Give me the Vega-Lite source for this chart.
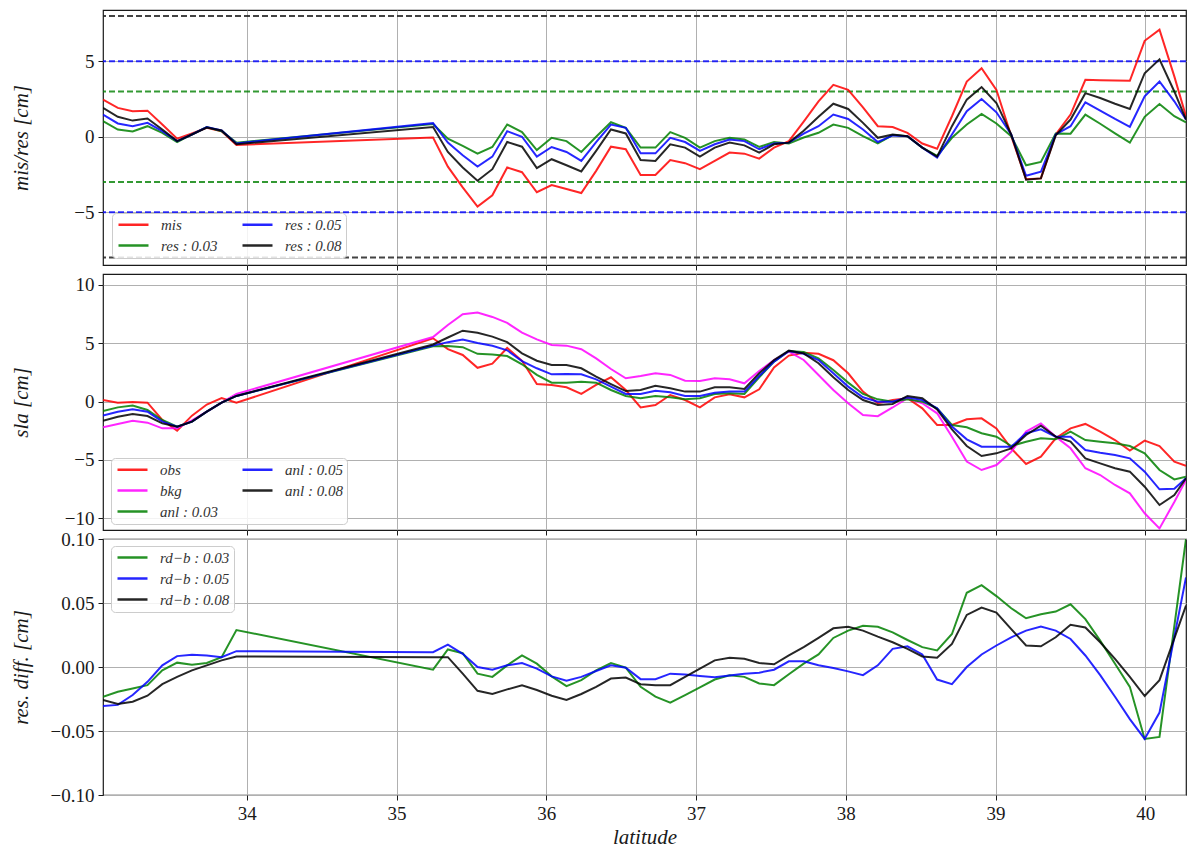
{
  "$schema": "https://vega.github.io/schema/vega-lite/v6.json",
  "background": "white",
  "padding": {"left": 9, "top": 9, "right": 0, "bottom": 0},
  "spacing": 9,
  "bounds": "flush",
  "resolve": {"scale": {"color": "independent", "x": "independent", "y": "independent"}, "legend": {"color": "independent"}},
  "datasets": {
    "p1": [
      {"lat":33.04,"mis":2.46,"r03":1.03,"r05":1.47,"r08":1.91},
      {"lat":33.139,"mis":1.91,"r03":0.48,"r05":0.88,"r08":1.32},
      {"lat":33.238,"mis":1.69,"r03":0.35,"r05":0.7,"r08":1.07},
      {"lat":33.337,"mis":1.73,"r03":0.7,"r05":0.92,"r08":1.21},
      {"lat":33.436,"mis":0.81,"r03":0.26,"r05":0.37,"r08":0.48},
      {"lat":33.535,"mis":-0.13,"r03":-0.35,"r05":-0.29,"r08":-0.29},
      {"lat":33.634,"mis":0.22,"r03":0.15,"r05":0.15,"r08":0.15},
      {"lat":33.733,"mis":0.59,"r03":0.64,"r05":0.64,"r08":0.61},
      {"lat":33.832,"mis":0.37,"r03":0.37,"r05":0.42,"r08":0.42},
      {"lat":33.931,"mis":-0.55,"r03":-0.39,"r05":-0.44,"r08":-0.5},
      {"lat":35.244,"mis":-0.05,"r03":0.85,"r05":0.9,"r08":0.64},
      {"lat":35.343,"mis":-1.98,"r03":-0.13,"r05":-0.39,"r08":-1.01},
      {"lat":35.442,"mis":-3.36,"r03":-0.61,"r05":-1.23,"r08":-2.04},
      {"lat":35.541,"mis":-4.63,"r03":-1.12,"r05":-1.97,"r08":-2.92},
      {"lat":35.64,"mis":-3.88,"r03":-0.68,"r05":-1.32,"r08":-2.15},
      {"lat":35.739,"mis":-2.04,"r03":0.81,"r05":0.37,"r08":-0.35},
      {"lat":35.838,"mis":-2.35,"r03":0.31,"r05":0.0,"r08":-0.66},
      {"lat":35.937,"mis":-3.68,"r03":-0.88,"r05":-1.32,"r08":-2.08},
      {"lat":36.036,"mis":-3.2,"r03":-0.07,"r05":-0.68,"r08":-1.49},
      {"lat":36.135,"mis":-3.46,"r03":-0.29,"r05":-1.01,"r08":-1.89},
      {"lat":36.234,"mis":-3.73,"r03":-1.01,"r05":-1.6,"r08":-2.3},
      {"lat":36.333,"mis":-2.26,"r03":0.0,"r05":-0.35,"r08":-0.94},
      {"lat":36.432,"mis":-0.66,"r03":0.96,"r05":0.81,"r08":0.48},
      {"lat":36.531,"mis":-0.83,"r03":0.59,"r05":0.59,"r08":0.22},
      {"lat":36.63,"mis":-2.54,"r03":-0.72,"r05":-1.1,"r08":-1.54},
      {"lat":36.729,"mis":-2.54,"r03":-0.72,"r05":-1.1,"r08":-1.6},
      {"lat":36.828,"mis":-1.54,"r03":0.31,"r05":-0.07,"r08":-0.5},
      {"lat":36.927,"mis":-1.75,"r03":-0.07,"r05":-0.35,"r08":-0.72},
      {"lat":37.026,"mis":-2.15,"r03":-0.72,"r05":-0.94,"r08":-1.32},
      {"lat":37.125,"mis":-1.6,"r03":-0.29,"r05":-0.5,"r08":-0.72},
      {"lat":37.224,"mis":-1.05,"r03":-0.07,"r05":-0.18,"r08":-0.39},
      {"lat":37.323,"mis":-1.12,"r03":-0.18,"r05":-0.29,"r08":-0.57},
      {"lat":37.422,"mis":-1.45,"r03":-0.68,"r05":-0.83,"r08":-1.05},
      {"lat":37.521,"mis":-0.72,"r03":-0.35,"r05":-0.44,"r08":-0.5},
      {"lat":37.62,"mis":-0.29,"r03":-0.44,"r05":-0.39,"r08":-0.39},
      {"lat":37.719,"mis":1.0,"r03":-0.05,"r05":0.2,"r08":0.4},
      {"lat":37.818,"mis":2.35,"r03":0.26,"r05":0.7,"r08":1.32},
      {"lat":37.917,"mis":3.44,"r03":0.81,"r05":1.47,"r08":2.19},
      {"lat":38.016,"mis":3.11,"r03":0.59,"r05":1.18,"r08":1.84},
      {"lat":38.115,"mis":1.95,"r03":0.04,"r05":0.48,"r08":0.92},
      {"lat":38.214,"mis":0.7,"r03":-0.44,"r05":-0.35,"r08":-0.07},
      {"lat":38.313,"mis":0.64,"r03":0.11,"r05":0.09,"r08":0.15},
      {"lat":38.412,"mis":0.26,"r03":0.04,"r05":0.04,"r08":0.04},
      {"lat":38.511,"mis":-0.45,"r03":-0.72,"r05":-0.72,"r08":-0.72},
      {"lat":38.61,"mis":-0.8,"r03":-1.27,"r05":-1.38,"r08":-1.32},
      {"lat":38.709,"mis":1.36,"r03":-0.07,"r05":0.15,"r08":0.7},
      {"lat":38.808,"mis":3.66,"r03":0.81,"r05":1.69,"r08":2.46},
      {"lat":38.907,"mis":4.54,"r03":1.51,"r05":2.5,"r08":3.29},
      {"lat":39.006,"mis":3.11,"r03":0.88,"r05":1.62,"r08":2.24},
      {"lat":39.105,"mis":0.04,"r03":0.04,"r05":0.15,"r08":0.15},
      {"lat":39.204,"mis":-2.81,"r03":-1.89,"r05":-2.59,"r08":-2.85},
      {"lat":39.303,"mis":-2.76,"r03":-1.67,"r05":-2.32,"r08":-2.76},
      {"lat":39.402,"mis":0.15,"r03":0.22,"r05":0.15,"r08":0.09},
      {"lat":39.501,"mis":1.47,"r03":0.2,"r05":0.7,"r08":1.14},
      {"lat":39.6,"mis":3.77,"r03":1.47,"r05":2.28,"r08":2.89},
      {"lat":39.699,"mis":3.75,"r03":0.86,"r05":1.73,"r08":2.57},
      {"lat":39.798,"mis":3.73,"r03":0.22,"r05":1.18,"r08":2.19},
      {"lat":39.897,"mis":3.71,"r03":-0.39,"r05":0.66,"r08":1.84},
      {"lat":39.996,"mis":6.36,"r03":1.32,"r05":2.68,"r08":4.21},
      {"lat":40.095,"mis":7.1,"r03":2.17,"r05":3.66,"r08":5.13},
      {"lat":40.194,"mis":4.0,"r03":1.36,"r05":2.35,"r08":3.0},
      {"lat":40.272,"mis":1.35,"r03":0.96,"r05":1.14,"r08":1.14}
    ],
    "p2": [
      {"lat":33.04,"obs":0.14,"bkg":-2.2,"a03":-0.8,"a05":-1.2,"a08":-1.63},
      {"lat":33.139,"obs":-0.09,"bkg":-1.91,"a03":-0.49,"a05":-0.86,"a08":-1.29},
      {"lat":33.238,"obs":-0.03,"bkg":-1.63,"a03":-0.34,"a05":-0.66,"a08":-1.06},
      {"lat":33.337,"obs":-0.09,"bkg":-1.8,"a03":-0.71,"a05":-0.86,"a08":-1.23},
      {"lat":33.436,"obs":-1.57,"bkg":-2.29,"a03":-1.57,"a05":-1.71,"a08":-1.86},
      {"lat":33.535,"obs":-2.49,"bkg":-2.29,"a03":-2.14,"a05":-2.14,"a08":-2.14},
      {"lat":33.634,"obs":-1.2,"bkg":-1.6,"a03":-1.71,"a05":-1.71,"a08":-1.71},
      {"lat":33.733,"obs":-0.25,"bkg":-0.86,"a03":-0.86,"a05":-0.86,"a08":-0.86},
      {"lat":33.832,"obs":0.3,"bkg":-0.09,"a03":-0.09,"a05":-0.09,"a08":-0.09},
      {"lat":33.931,"obs":-0.1,"bkg":0.66,"a03":0.49,"a05":0.49,"a08":0.49},
      {"lat":35.244,"obs":5.43,"bkg":5.54,"a03":4.75,"a05":4.8,"a08":4.9},
      {"lat":35.343,"obs":4.5,"bkg":6.57,"a03":4.77,"a05":5.1,"a08":5.5},
      {"lat":35.442,"obs":4.0,"bkg":7.5,"a03":4.67,"a05":5.33,"a08":6.08},
      {"lat":35.541,"obs":2.9,"bkg":7.63,"a03":4.1,"a05":5.03,"a08":5.91},
      {"lat":35.64,"obs":3.25,"bkg":7.26,"a03":4.05,"a05":4.79,"a08":5.57},
      {"lat":35.739,"obs":4.6,"bkg":6.75,"a03":3.91,"a05":4.4,"a08":5.1},
      {"lat":35.838,"obs":3.5,"bkg":5.91,"a03":3.2,"a05":3.47,"a08":4.14},
      {"lat":35.937,"obs":1.51,"bkg":5.34,"a03":2.29,"a05":2.86,"a08":3.51},
      {"lat":36.036,"obs":1.43,"bkg":4.86,"a03":1.63,"a05":2.34,"a08":3.14},
      {"lat":36.135,"obs":1.23,"bkg":4.8,"a03":1.63,"a05":2.37,"a08":3.14},
      {"lat":36.234,"obs":0.66,"bkg":4.49,"a03":1.71,"a05":2.34,"a08":2.86},
      {"lat":36.333,"obs":1.43,"bkg":3.71,"a03":1.63,"a05":1.91,"a08":2.14},
      {"lat":36.432,"obs":2.09,"bkg":2.8,"a03":1.0,"a05":1.29,"a08":1.51},
      {"lat":36.531,"obs":1.0,"bkg":2.0,"a03":0.49,"a05":0.66,"a08":0.91},
      {"lat":36.63,"obs":-0.49,"bkg":2.2,"a03":0.29,"a05":0.66,"a08":1.0},
      {"lat":36.729,"obs":-0.29,"bkg":2.43,"a03":0.49,"a05":0.94,"a08":1.37},
      {"lat":36.828,"obs":0.57,"bkg":2.29,"a03":0.37,"a05":0.8,"a08":1.14},
      {"lat":36.927,"obs":0.14,"bkg":1.8,"a03":0.2,"a05":0.49,"a08":0.86},
      {"lat":37.026,"obs":-0.49,"bkg":1.77,"a03":0.29,"a05":0.49,"a08":0.86},
      {"lat":37.125,"obs":0.37,"bkg":2.0,"a03":0.66,"a05":0.77,"a08":1.23},
      {"lat":37.224,"obs":0.63,"bkg":1.91,"a03":0.71,"a05":0.86,"a08":1.23},
      {"lat":37.323,"obs":0.37,"bkg":1.57,"a03":0.66,"a05":0.86,"a08":1.09},
      {"lat":37.422,"obs":1.06,"bkg":2.63,"a03":2.09,"a05":2.2,"a08":2.43},
      {"lat":37.521,"obs":2.94,"bkg":3.57,"a03":3.43,"a05":3.43,"a08":3.57},
      {"lat":37.62,"obs":3.95,"bkg":4.29,"a03":4.34,"a05":4.34,"a08":4.37},
      {"lat":37.719,"obs":4.2,"bkg":3.57,"a03":4.26,"a05":4.1,"a08":4.14},
      {"lat":37.818,"obs":4.1,"bkg":2.29,"a03":3.71,"a05":3.57,"a08":3.29},
      {"lat":37.917,"obs":3.55,"bkg":1.0,"a03":2.71,"a05":2.43,"a08":2.09},
      {"lat":38.016,"obs":2.43,"bkg":-0.14,"a03":1.63,"a05":1.29,"a08":1.0},
      {"lat":38.115,"obs":0.86,"bkg":-1.14,"a03":0.66,"a05":0.37,"a08":0.14},
      {"lat":38.214,"obs":-0.14,"bkg":-1.25,"a03":0.2,"a05":0.0,"a08":-0.29},
      {"lat":38.313,"obs":0.14,"bkg":-0.5,"a03":0.0,"a05":0.0,"a08":-0.2},
      {"lat":38.412,"obs":0.29,"bkg":0.29,"a03":0.2,"a05":0.37,"a08":0.49},
      {"lat":38.511,"obs":-0.57,"bkg":-0.14,"a03":0.0,"a05":0.14,"a08":0.29},
      {"lat":38.61,"obs":-2.0,"bkg":-1.0,"a03":-0.57,"a05":-0.57,"a08":-0.66},
      {"lat":38.709,"obs":-2.0,"bkg":-3.0,"a03":-2.0,"a05":-2.14,"a08":-2.37},
      {"lat":38.808,"obs":-1.51,"bkg":-5.14,"a03":-2.2,"a05":-3.23,"a08":-3.8},
      {"lat":38.907,"obs":-1.43,"bkg":-5.86,"a03":-2.71,"a05":-3.86,"a08":-4.66},
      {"lat":39.006,"obs":-2.29,"bkg":-5.43,"a03":-3.0,"a05":-3.86,"a08":-4.43},
      {"lat":39.105,"obs":-4.0,"bkg":-4.29,"a03":-3.8,"a05":-3.86,"a08":-4.0},
      {"lat":39.204,"obs":-5.34,"bkg":-2.57,"a03":-3.43,"a05":-2.71,"a08":-2.86},
      {"lat":39.303,"obs":-4.71,"bkg":-1.86,"a03":-3.14,"a05":-2.37,"a08":-2.06},
      {"lat":39.402,"obs":-3.14,"bkg":-3.0,"a03":-3.23,"a05":-3.0,"a08":-3.0},
      {"lat":39.501,"obs":-2.29,"bkg":-4.0,"a03":-2.57,"a05":-3.0,"a08":-3.43},
      {"lat":39.6,"obs":-1.91,"bkg":-5.71,"a03":-3.29,"a05":-4.14,"a08":-4.86},
      {"lat":39.699,"obs":-2.57,"bkg":-6.29,"a03":-3.43,"a05":-4.37,"a08":-5.29},
      {"lat":39.798,"obs":-3.29,"bkg":-7.14,"a03":-3.57,"a05":-4.57,"a08":-5.71},
      {"lat":39.897,"obs":-4.2,"bkg":-7.86,"a03":-3.8,"a05":-4.86,"a08":-6.0},
      {"lat":39.996,"obs":-3.34,"bkg":-9.57,"a03":-4.43,"a05":-6.0,"a08":-7.29},
      {"lat":40.095,"obs":-3.8,"bkg":-10.86,"a03":-5.86,"a05":-7.51,"a08":-8.86},
      {"lat":40.194,"obs":-5.14,"bkg":-8.6,"a03":-6.66,"a05":-7.46,"a08":-8.0},
      {"lat":40.272,"obs":-5.49,"bkg":-6.71,"a03":-6.43,"a05":-6.57,"a08":-6.57}
    ],
    "p3": [
      {"lat":33.04,"d03":-0.0232,"d05":-0.0304,"d08":-0.0258},
      {"lat":33.139,"d03":-0.0193,"d05":-0.0296,"d08":-0.0289},
      {"lat":33.238,"d03":-0.0168,"d05":-0.0219,"d08":-0.0271},
      {"lat":33.337,"d03":-0.0142,"d05":-0.0116,"d08":-0.0224},
      {"lat":33.436,"d03":-0.0026,"d05":0.0013,"d08":-0.0134},
      {"lat":33.535,"d03":0.0034,"d05":0.0085,"d08":-0.0077},
      {"lat":33.634,"d03":0.0018,"d05":0.0095,"d08":-0.0026},
      {"lat":33.733,"d03":0.0031,"d05":0.009,"d08":0.0013},
      {"lat":33.832,"d03":0.0077,"d05":0.0077,"d08":0.0052},
      {"lat":33.931,"d03":0.0289,"d05":0.0124,"d08":0.0082},
      {"lat":35.244,"d03":-0.0021,"d05":0.0116,"d08":0.0077},
      {"lat":35.343,"d03":0.0137,"d05":0.0175,"d08":0.0077},
      {"lat":35.442,"d03":0.0108,"d05":0.0103,"d08":-0.0052},
      {"lat":35.541,"d03":-0.0052,"d05":0.0,"d08":-0.0186},
      {"lat":35.64,"d03":-0.0077,"d05":-0.0021,"d08":-0.0211},
      {"lat":35.739,"d03":0.0013,"d05":0.0013,"d08":-0.0175},
      {"lat":35.838,"d03":0.009,"d05":0.0031,"d08":-0.0142},
      {"lat":35.937,"d03":0.0026,"d05":-0.0013,"d08":-0.018},
      {"lat":36.036,"d03":-0.0073,"d05":-0.0073,"d08":-0.0225},
      {"lat":36.135,"d03":-0.0149,"d05":-0.0108,"d08":-0.0258},
      {"lat":36.234,"d03":-0.0103,"d05":-0.0077,"d08":-0.0211},
      {"lat":36.333,"d03":-0.0026,"d05":-0.0031,"d08":-0.0155},
      {"lat":36.432,"d03":0.0031,"d05":0.0013,"d08":-0.009},
      {"lat":36.531,"d03":-0.0005,"d05":-0.0005,"d08":-0.0082},
      {"lat":36.63,"d03":-0.0155,"d05":-0.0095,"d08":-0.0134},
      {"lat":36.729,"d03":-0.0232,"d05":-0.0095,"d08":-0.0142},
      {"lat":36.828,"d03":-0.0278,"d05":-0.0052,"d08":-0.0142},
      {"lat":36.927,"d03":-0.0219,"d05":-0.0059,"d08":-0.0077},
      {"lat":37.026,"d03":-0.016,"d05":-0.007,"d08":-0.0013},
      {"lat":37.125,"d03":-0.0098,"d05":-0.008,"d08":0.0052},
      {"lat":37.224,"d03":-0.0064,"d05":-0.0067,"d08":0.0072},
      {"lat":37.323,"d03":-0.0077,"d05":-0.0052,"d08":0.0064},
      {"lat":37.422,"d03":-0.0129,"d05":-0.0044,"d08":0.0031},
      {"lat":37.521,"d03":-0.0142,"d05":-0.0021,"d08":0.0021},
      {"lat":37.62,"d03":-0.0057,"d05":0.0044,"d08":0.009},
      {"lat":37.719,"d03":0.0026,"d05":0.0044,"d08":0.0155},
      {"lat":37.818,"d03":0.0098,"d05":0.0013,"d08":0.0227},
      {"lat":37.917,"d03":0.0227,"d05":-0.0008,"d08":0.0302},
      {"lat":38.016,"d03":0.0284,"d05":-0.0034,"d08":0.0314},
      {"lat":38.115,"d03":0.0322,"d05":-0.0064,"d08":0.0284},
      {"lat":38.214,"d03":0.0314,"d05":0.0013,"d08":0.0237},
      {"lat":38.313,"d03":0.0271,"d05":0.0142,"d08":0.0193},
      {"lat":38.412,"d03":0.0211,"d05":0.0162,"d08":0.0142},
      {"lat":38.511,"d03":0.0155,"d05":0.0098,"d08":0.0082},
      {"lat":38.61,"d03":0.0129,"d05":-0.0098,"d08":0.0072},
      {"lat":38.709,"d03":0.0258,"d05":-0.0134,"d08":0.018},
      {"lat":38.808,"d03":0.058,"d05":0.0,"d08":0.0407},
      {"lat":38.907,"d03":0.0639,"d05":0.0098,"d08":0.0464},
      {"lat":39.006,"d03":0.0554,"d05":0.0168,"d08":0.0425},
      {"lat":39.105,"d03":0.0459,"d05":0.0232,"d08":0.0296},
      {"lat":39.204,"d03":0.0381,"d05":0.0284,"d08":0.0168},
      {"lat":39.303,"d03":0.0412,"d05":0.0317,"d08":0.0162},
      {"lat":39.402,"d03":0.0433,"d05":0.0284,"d08":0.0232},
      {"lat":39.501,"d03":0.049,"d05":0.0219,"d08":0.033},
      {"lat":39.6,"d03":0.0374,"d05":0.009,"d08":0.0309},
      {"lat":39.699,"d03":0.0206,"d05":-0.0064,"d08":0.0193},
      {"lat":39.798,"d03":0.0026,"d05":-0.0232,"d08":0.0064},
      {"lat":39.897,"d03":-0.0155,"d05":-0.0407,"d08":-0.0077},
      {"lat":39.996,"d03":-0.0562,"d05":-0.0562,"d08":-0.0227},
      {"lat":40.095,"d03":-0.0546,"d05":-0.0356,"d08":-0.0103},
      {"lat":40.272,"d03":0.1,"d05":0.07,"d08":0.048}
    ]
  },
  "vconcat": [
    {
      "width": 1083,
      "height": 255,
      "layer": [
        {
          "data": {"values": [{"t": 8}, {"t": -8}]},
          "mark": {"type": "rule", "color": "#222222", "strokeDash": [6, 3], "strokeWidth": 2, "opacity": 0.85},
          "encoding": {
            "y": {"field": "t", "type": "quantitative", "scale": {"domain": [-8.5, 8.4], "nice": false, "zero": false},
              "axis": {"values": [-5, 0, 5], "title": "mis/res [cm]", "titleX": -82, "titleBaseline": "middle"}}
          }
        },
        {
          "data": {"values": [{"t": 5}, {"t": -5}]},
          "mark": {"type": "rule", "color": "#0000ff", "strokeDash": [6, 3], "strokeWidth": 2, "opacity": 0.8},
          "encoding": {"y": {"field": "t", "type": "quantitative"}}
        },
        {
          "data": {"values": [{"t": 3}, {"t": -3}]},
          "mark": {"type": "rule", "color": "#008000", "strokeDash": [6, 3], "strokeWidth": 2, "opacity": 0.8},
          "encoding": {"y": {"field": "t", "type": "quantitative"}}
        },
        {
          "data": {"name": "p1"},
          "transform": [{"fold": ["mis", "r03", "r05", "r08"], "as": ["k", "v"]}],
          "mark": {"type": "line", "strokeWidth": 2, "opacity": 0.85, "clip": true},
          "encoding": {
            "x": {"field": "lat", "type": "quantitative", "scale": {"domain": [33.04, 40.272], "nice": false, "zero": false},
              "axis": {"values": [34, 35, 36, 37, 38, 39, 40], "labels": false, "title": null}},
            "y": {"field": "v", "type": "quantitative"},
            "color": {"field": "k", "type": "nominal",
              "scale": {"domain": ["mis", "r03", "r05", "r08"], "range": ["#ff0000", "#008000", "#0000ff", "#000000"]},
              "legend": {"title": null, "orient": "none", "legendX": 9, "legendY": 203, "columns": 2, "columnPadding": 19,
                "labelExpr": "datum.label == 'mis' ? 'mis' : 'res : 0.' + slice(datum.label, 1)"}}
          }
        }
      ]
    },
    {
      "width": 1083,
      "height": 256,
      "layer": [
        {
          "data": {"name": "p2"},
          "transform": [{"fold": ["obs", "bkg", "a03", "a05", "a08"], "as": ["k", "v"]}],
          "mark": {"type": "line", "strokeWidth": 2, "opacity": 0.85, "clip": true},
          "encoding": {
            "x": {"field": "lat", "type": "quantitative", "scale": {"domain": [33.04, 40.272], "nice": false, "zero": false},
              "axis": {"values": [34, 35, 36, 37, 38, 39, 40], "labels": false, "title": null}},
            "y": {"field": "v", "type": "quantitative", "scale": {"domain": [-11, 10.94], "nice": false, "zero": false},
              "axis": {"values": [-10, -5, 0, 5, 10], "title": "sla [cm]", "titleX": -82, "titleBaseline": "middle"}},
            "color": {"field": "k", "type": "nominal",
              "scale": {"domain": ["obs", "bkg", "a03", "a05", "a08"], "range": ["#ff0000", "#ff00ff", "#008000", "#0000ff", "#000000"]},
              "legend": {"title": null, "orient": "none", "legendX": 8, "legendY": 184, "columns": 2, "columnPadding": 19,
                "labelExpr": "(datum.label == 'obs' || datum.label == 'bkg') ? datum.label : 'anl : 0.' + slice(datum.label, 1)"}}
          }
        }
      ]
    },
    {
      "width": 1083,
      "height": 256,
      "layer": [
        {
          "data": {"name": "p3"},
          "transform": [{"fold": ["d03", "d05", "d08"], "as": ["k", "v"]}],
          "mark": {"type": "line", "strokeWidth": 2, "opacity": 0.85, "clip": true},
          "encoding": {
            "x": {"field": "lat", "type": "quantitative", "scale": {"domain": [33.04, 40.272], "nice": false, "zero": false},
              "axis": {"values": [34, 35, 36, 37, 38, 39, 40], "format": "d", "title": "latitude", "titlePadding": 3}},
            "y": {"field": "v", "type": "quantitative", "scale": {"domain": [-0.1, 0.1], "nice": false, "zero": false},
              "axis": {"values": [-0.1, -0.05, 0, 0.05, 0.1], "format": ".2f", "title": "res. diff. [cm]", "titleX": -82, "titleBaseline": "middle"}},
            "color": {"field": "k", "type": "nominal",
              "scale": {"domain": ["d03", "d05", "d08"], "range": ["#008000", "#0000ff", "#000000"]},
              "legend": {"title": null, "orient": "none", "legendX": 8, "legendY": 7,
                "labelExpr": "'rd−b : 0.' + slice(datum.label, 1)"}}
          }
        }
      ]
    }
  ],
  "config": {
    "font": "Liberation Serif",
    "view": {"stroke": "#1a1a1a", "strokeWidth": 1.2},
    "axis": {
      "labelFont": "Liberation Serif", "labelFontSize": 19, "labelColor": "#1a1a1a",
      "titleFont": "Liberation Serif", "titleFontSize": 21, "titleFontStyle": "italic", "titleFontWeight": "normal", "titleColor": "#1a1a1a",
      "gridColor": "#b0b0b0", "gridWidth": 1, "gridOpacity": 1,
      "tickColor": "#1a1a1a", "tickSize": 5, "tickWidth": 1, "domain": false, "labelPadding": 4
    },
    "legend": {
      "labelFont": "Liberation Serif", "labelFontStyle": "italic", "labelFontSize": 15, "labelColor": "#333333",
      "symbolType": "M-3,0H3", "symbolSize": 100, "symbolOffset": 10, "symbolStrokeWidth": 2.5, "symbolOpacity": 0.85,
      "fillColor": "rgba(255,255,255,0.85)", "strokeColor": "#cccccc", "cornerRadius": 4, "padding": 4,
      "labelOffset": 20, "rowPadding": 5
    }
  }
}
